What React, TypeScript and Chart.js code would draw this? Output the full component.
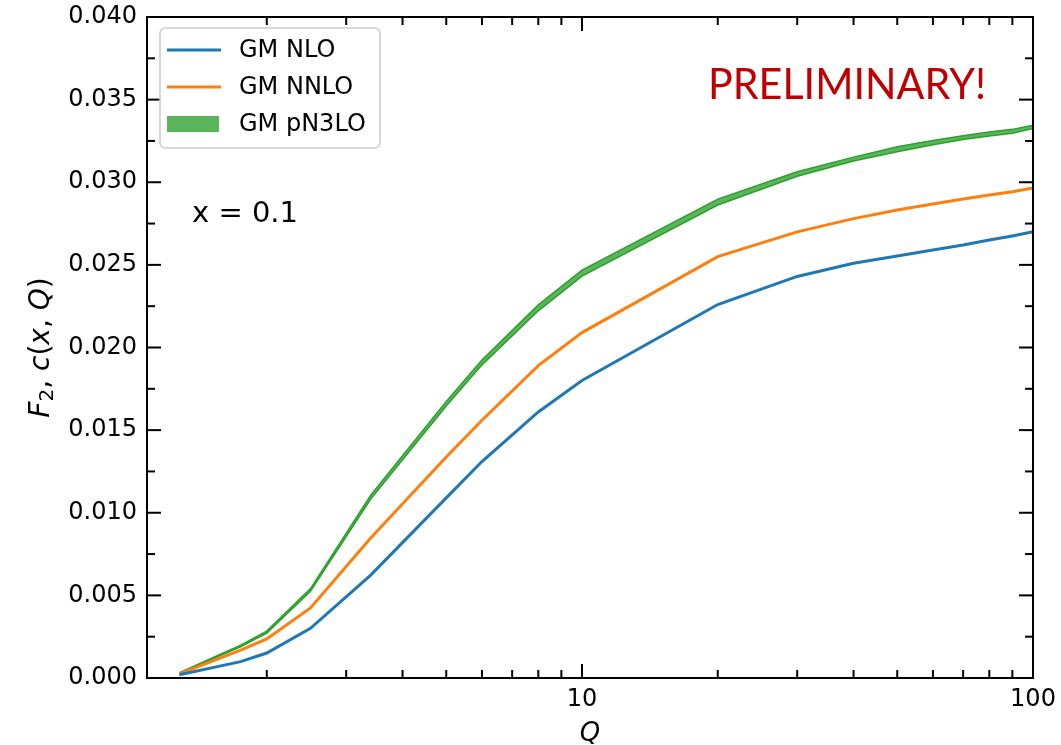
import React, { useEffect, useRef } from 'react';
import { Chart, registerables } from 'chart.js';

Chart.register(...registerables);

// ---- data ----
const Q = [1.28, 1.75, 2, 2.5, 3.4, 5, 6, 8, 10, 20, 30, 40, 50, 60, 70, 80, 90, 100];
const gmNLO = [0.0002, 0.00099, 0.00151, 0.00301, 0.00623, 0.0109, 0.0131, 0.0161, 0.0180, 0.0226, 0.0243, 0.0251, 0.02554, 0.0259, 0.0262, 0.0265, 0.02675, 0.0270];
const gmNNLO = [0.00025, 0.00169, 0.00236, 0.00424, 0.00847, 0.01337, 0.0156, 0.0189, 0.0209, 0.0255, 0.0270, 0.0278, 0.02832, 0.02868, 0.02899, 0.02923, 0.02943, 0.02965];
const gmPN3LOLow = [0.00028, 0.00189, 0.00272, 0.00525, 0.01083, 0.01646, 0.01895, 0.02222, 0.02432, 0.02862, 0.03036, 0.03128, 0.03185, 0.03227, 0.03258, 0.0328, 0.03296, 0.03325];
const gmPN3LOHigh = [0.00032, 0.00199, 0.00284, 0.00541, 0.01107, 0.01674, 0.01925, 0.02258, 0.02468, 0.02898, 0.03064, 0.03152, 0.03215, 0.03253, 0.03282, 0.03304, 0.0332, 0.03345];

const seriesLabels = ['GM NLO', 'GM NNLO', 'GM pN3LO'];
const yTicks = [0, 0.005, 0.01, 0.015, 0.02, 0.025, 0.03, 0.035, 0.04];
const yMinorTicks = [0.0025, 0.0075, 0.0125, 0.0175, 0.0225, 0.0275, 0.0325, 0.0375];
const xMajorTicks = [10, 100];
const xMinorTicks = [2, 3, 4, 5, 6, 7, 8, 9, 20, 30, 40, 50, 60, 70, 80, 90];
const annotationText = 'x = 0.1';
const stampText = 'PRELIMINARY!';

const BLUE = '#1f77b4';
const ORANGE = '#ff7f0e';
const GREEN = '#2ca02c';
const GREEN_FILL = 'rgba(44,160,44,0.78)';
const FONT = "'DejaVu Sans', sans-serif";

const toPts = (ys: number[]) => Q.map((q, i) => ({ x: q, y: ys[i] }));

const deco = {
  id: 'deco',
  afterDraw(chart: any) {
    const { ctx, chartArea: a, scales } = chart;
    const xs = scales.x;
    const ys = scales.y;
    ctx.save();
    ctx.strokeStyle = '#000';
    ctx.lineWidth = 2;
    ctx.lineCap = 'butt';
    const tick = (x1: number, y1: number, x2: number, y2: number) => {
      ctx.beginPath();
      ctx.moveTo(x1, y1);
      ctx.lineTo(x2, y2);
      ctx.stroke();
    };
    const MAJ = 14;
    const MIN = 8;
    xMajorTicks.forEach((v) => {
      const px = xs.getPixelForValue(v);
      tick(px, a.bottom, px, a.bottom - MAJ);
      tick(px, a.top, px, a.top + MAJ);
    });
    xMinorTicks.forEach((v) => {
      const px = xs.getPixelForValue(v);
      tick(px, a.bottom, px, a.bottom - MIN);
      tick(px, a.top, px, a.top + MIN);
    });
    yTicks.forEach((v) => {
      const py = ys.getPixelForValue(v);
      tick(a.left, py, a.left + MAJ, py);
      tick(a.right, py, a.right - MAJ, py);
    });
    yMinorTicks.forEach((v) => {
      const py = ys.getPixelForValue(v);
      tick(a.left, py, a.left + MIN, py);
      tick(a.right, py, a.right - MIN, py);
    });
    ctx.strokeRect(a.left, a.top, a.right - a.left, a.bottom - a.top);

    // legend
    const lx = a.left + 13;
    const ly = a.top + 11;
    const lw = 220;
    const lh = 120;
    ctx.beginPath();
    ctx.roundRect(lx, ly, lw, lh, 5);
    ctx.fillStyle = 'rgba(255,255,255,0.8)';
    ctx.fill();
    ctx.strokeStyle = '#cccccc';
    ctx.lineWidth = 1.5;
    ctx.stroke();
    const rows = [a.top + 33, a.top + 70, a.top + 107];
    const hx1 = a.left + 20;
    const hx2 = a.left + 74;
    ctx.lineWidth = 3;
    ctx.strokeStyle = BLUE;
    tick(hx1, rows[0], hx2, rows[0]);
    ctx.strokeStyle = ORANGE;
    tick(hx1, rows[1], hx2, rows[1]);
    ctx.fillStyle = GREEN_FILL;
    ctx.fillRect(hx1, rows[2] - 8, hx2 - hx1 - 2, 16);
    ctx.fillStyle = '#000';
    ctx.font = `24px ${FONT}`;
    ctx.textAlign = 'left';
    ctx.textBaseline = 'middle';
    seriesLabels.forEach((t, i) => ctx.fillText(t, a.left + 92, rows[i] + 1));

    // annotation
    ctx.font = `29px ${FONT}`;
    ctx.fillText(annotationText, a.left + 45, a.top + 197);

    // stamp
    ctx.fillStyle = '#C00000';
    ctx.font = "43px Lato, 'Open Sans', sans-serif";
    ctx.textBaseline = 'alphabetic';
    ctx.fillText(stampText, 708, 99, 278);

    // axis titles
    ctx.fillStyle = '#000';
    ctx.textBaseline = 'middle';
    ctx.textAlign = 'center';
    ctx.font = `italic 26px ${FONT}`;
    ctx.fillText('Q', (a.left + a.right) / 2, 734);

    const segs = [
      { t: 'F', f: `italic 28px ${FONT}`, dy: 0 },
      { t: '2', f: `20px ${FONT}`, dy: 6 },
      { t: ', ', f: `28px ${FONT}`, dy: 0 },
      { t: 'c', f: `italic 28px ${FONT}`, dy: 0 },
      { t: '(', f: `28px ${FONT}`, dy: 0 },
      { t: 'x', f: `italic 28px ${FONT}`, dy: 0 },
      { t: ', ', f: `28px ${FONT}`, dy: 0 },
      { t: 'Q', f: `italic 28px ${FONT}`, dy: 0 },
      { t: ')', f: `28px ${FONT}`, dy: 0 },
    ];
    let total = 0;
    const widths = segs.map((s) => {
      ctx.font = s.f;
      const w = ctx.measureText(s.t).width;
      total += w;
      return w;
    });
    ctx.translate(42, (a.top + a.bottom) / 2);
    ctx.rotate(-Math.PI / 2);
    ctx.textAlign = 'left';
    let cx = -total / 2;
    segs.forEach((s, i) => {
      ctx.font = s.f;
      ctx.fillText(s.t, cx, s.dy);
      cx += widths[i];
    });
    ctx.restore();
  },
};

export default function App() {
  const ref = useRef<HTMLCanvasElement>(null);
  useEffect(() => {
    document.body.style.margin = '0';
    const chart = new Chart(ref.current as HTMLCanvasElement, {
      type: 'line',
      data: {
        datasets: [
          { label: seriesLabels[0], data: toPts(gmNLO), borderColor: BLUE, borderWidth: 3, pointRadius: 0, fill: false, tension: 0 },
          { label: seriesLabels[1], data: toPts(gmNNLO), borderColor: ORANGE, borderWidth: 3, pointRadius: 0, fill: false, tension: 0 },
          { label: seriesLabels[2] + ' low', data: toPts(gmPN3LOLow), borderColor: GREEN, borderWidth: 1.5, pointRadius: 0, fill: false, tension: 0 },
          { label: seriesLabels[2], data: toPts(gmPN3LOHigh), borderColor: GREEN, borderWidth: 1.5, pointRadius: 0, fill: '-1', backgroundColor: GREEN_FILL, tension: 0 },
        ],
      },
      options: {
        responsive: false,
        animation: false,
        devicePixelRatio: 1,
        layout: { padding: { left: 0, right: 28, top: 17, bottom: 0 } },
        plugins: { legend: { display: false }, tooltip: { enabled: false } },
        events: [],
        scales: {
          x: {
            type: 'logarithmic',
            min: 1.085,
            max: 100,
            afterBuildTicks: (s: any) => {
              s.ticks = [...xMinorTicks, ...xMajorTicks].sort((p, q) => p - q).map((v) => ({ value: v }));
            },
            afterFit: (s: any) => {
              s.height = 67;
              s.paddingLeft = 0;
              s.paddingRight = 0;
            },
            grid: { display: false, drawTicks: false },
            border: { display: false },
            ticks: {
              autoSkip: false,
              maxRotation: 0,
              minRotation: 0,
              padding: 7,
              color: '#000',
              font: { family: FONT, size: 24 },
              callback: (v: any) => (xMajorTicks.includes(Number(v)) ? String(v) : ''),
            },
          },
          y: {
            type: 'linear',
            min: 0,
            max: 0.04,
            afterBuildTicks: (s: any) => {
              s.ticks = yTicks.map((v) => ({ value: v }));
            },
            afterFit: (s: any) => {
              s.width = 147;
              s.paddingTop = 0;
              s.paddingBottom = 0;
            },
            grid: { display: false, drawTicks: false },
            border: { display: false },
            ticks: {
              padding: 10,
              color: '#000',
              font: { family: FONT, size: 24 },
              callback: (v: any) => Number(v).toFixed(3),
            },
          },
        },
      },
      plugins: [deco],
    } as any);
    return () => chart.destroy();
  }, []);
  return (
    <div style={{ width: 1061, height: 745 }}>
      <canvas ref={ref} width={1061} height={745} style={{ display: 'block' }} />
    </div>
  );
}
